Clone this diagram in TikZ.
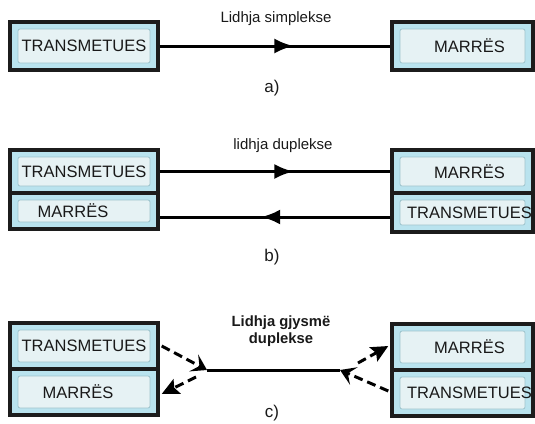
\documentclass[tikz,border=0pt]{standalone}
\usepackage{fontspec}
\setmainfont{Liberation Sans}
\usetikzlibrary{arrows.meta,decorations.markings}
\definecolor{boxfill}{HTML}{B9E3EE}
\definecolor{panelfill}{HTML}{E6F2F4}
\definecolor{paneledge}{HTML}{9DC3CC}
\definecolor{frame}{HTML}{1C1C1C}
\tikzset{
  devbox/.style={rectangle, draw=frame, line width=3.4pt, fill=boxfill,
    inner sep=0pt, font=\fontsize{16.5}{18}\selectfont, text=black!90,
    path picture={
      \fill[panelfill, draw=paneledge, line width=0.8pt, rounded corners=2pt]
        ([xshift=8pt,yshift=-7pt]path picture bounding box.north west)
        rectangle ([xshift=-8pt,yshift=7pt]path picture bounding box.south east);
    }},
  link/.style={line width=3pt, draw=black},
  midarrow/.style={postaction={decorate}, decoration={markings,
    mark=at position #1 with {\arrow{Latex[length=19pt,width=15pt]}}}},
  dlink/.style={line width=3pt, draw=black, dash pattern=on 9pt off 5pt},
  barb/.style={-{Stealth[length=15pt,width=19pt,inset=6.5pt]}},
  tri/.style={-{Stealth[length=17pt,width=16pt,inset=3pt]}},
  lbl/.style={font=\fontsize{15}{17}\selectfont, text=black!90},
  blbl/.style={font=\bfseries\fontsize{14.8}{17.5}\selectfont, align=center, text=black!90},
  partlbl/.style={font=\fontsize{17}{19}\selectfont, text=black!90}
}
\begin{document}
\begin{tikzpicture}[x=1pt,y=-1pt]
\useasboundingbox (0,0) rectangle (535,423);
% a)
\node[devbox, minimum width=148pt, minimum height=48pt] (txa) at (84,46) {TRANSMETUES};
\node[devbox, minimum width=141pt, minimum height=48pt] (rxa) at (462.5,46) {\hspace*{14pt}MARRËS};
\draw[link, midarrow=0.58] (txa.east) -- (rxa.west);
\node[lbl] (la) at (276,19) {Lidhja simplekse};
\node[partlbl] (ca) at (272,88) {a)};
% b)
\node[devbox, minimum width=148pt, minimum height=43pt] (txb) at (84,171.5) {TRANSMETUES};
\node[devbox, minimum width=148pt, minimum height=36pt] (rxbl) at (84,211) {\hspace*{-22pt}MARRËS};
\node[devbox, minimum width=141pt, minimum height=43pt] (rxb) at (462.5,171.5) {\hspace*{14pt}MARRËS};
\node[devbox, minimum width=141pt, minimum height=39pt] (txbr) at (462.5,212.5) {\hspace*{14pt}TRANSMETUES};
\coordinate (bl) at (158,217);
\coordinate (br) at (392,217);
\draw[link, midarrow=0.58] (txb.east) -- (rxb.west);
\draw[link, midarrow=0.56] (txbr.west |- br) -- (rxbl.east |- bl);
\node[lbl] (lb) at (283,146) {lidhja duplekse};
\node[partlbl] (cb) at (272,257) {b)};
% c)
\node[devbox, minimum width=148pt, minimum height=46pt] (txc) at (84,346) {TRANSMETUES};
\node[devbox, minimum width=148pt, minimum height=46pt] (rxcl) at (84,392) {\hspace*{-12pt}MARRËS};
\node[devbox, minimum width=141pt, minimum height=46pt] (rxc) at (462.5,347) {\hspace*{14pt}MARRËS};
\node[devbox, minimum width=141pt, minimum height=46pt] (txcr) at (462.5,393) {\hspace*{14pt}TRANSMETUES};
\coordinate (jl) at (207,370);
\coordinate (jr) at (340,370);
\coordinate (jl2) at (196,377);
\coordinate (jr2) at (358,363);
\draw[link] (jl) -- (jr);
\draw[dlink, barb] ([xshift=2pt]txc.east) -- (jl);
\draw[dlink, tri] (jl2) -- ([xshift=2pt,yshift=-2pt]rxcl.east);
\draw[dlink, tri] (jr2) -- ([xshift=-2pt,yshift=1pt]rxc.west);
\draw[dlink, barb] ([xshift=-2pt,yshift=2pt]txcr.west) -- (jr);
\node[blbl] (lc) at (281,331) {Lidhja gjysmë\\duplekse};
\node[partlbl] (cc) at (272,413) {c)};
\end{tikzpicture}
\end{document}
